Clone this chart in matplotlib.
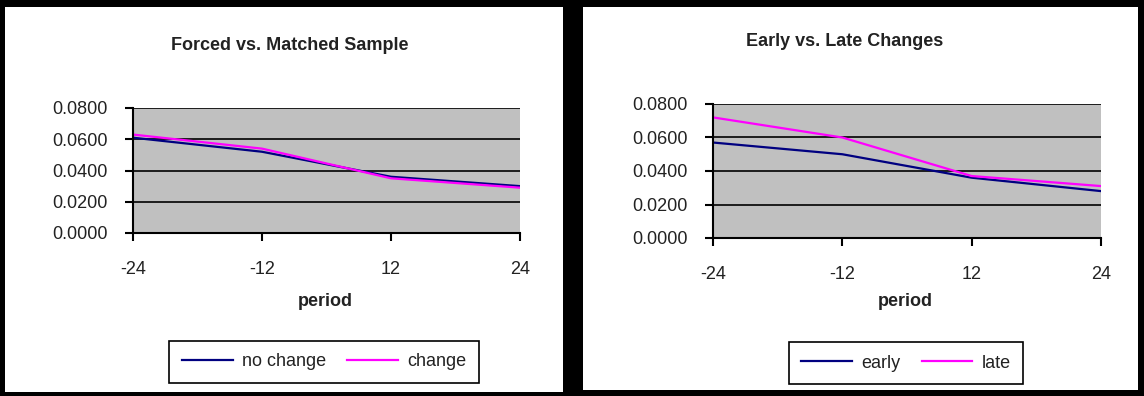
import matplotlib.pyplot as plt

plt.rcParams['font.family'] = ['Liberation Sans', 'DejaVu Sans']

periods = ["-24", "-12", "12", "24"]

# left chart: forced vs. matched sample
no_change = [0.061, 0.052, 0.036, 0.030]
change = [0.063, 0.054, 0.035, 0.029]

# right chart: early vs. late changes
early = [0.057, 0.050, 0.036, 0.028]
late = [0.072, 0.060, 0.037, 0.031]

W, H = 1144, 396
fig = plt.figure(figsize=(W / 100, H / 100), dpi=100, facecolor="black")


def fx(px):
    return px / W


def fy(py):
    return 1 - py / H


def panel(x0, x1, y0, y1):
    bg = fig.add_axes([fx(x0), fy(y1), fx(x1 - x0), (y1 - y0) / H])
    bg.set_facecolor("white")
    bg.set_xticks([])
    bg.set_yticks([])
    for s in bg.spines.values():
        s.set_visible(False)
    return bg


def chart(box, s1, s2, names, title, tpos, lpos, legpos):
    x0, x1, y0, y1 = box
    ax = fig.add_axes([fx(x0), fy(y1), fx(x1 - x0), (y1 - y0) / H])
    ax.set_facecolor("#C0C0C0")
    xs = range(len(periods))
    ax.plot(xs, s1, color="#000080", lw=1.6, label=names[0])
    ax.plot(xs, s2, color="#FF00FF", lw=1.6, label=names[1])
    ax.set_xlim(0, len(periods) - 1)
    ax.set_ylim(0, 0.08)
    ax.set_yticks([0, 0.02, 0.04, 0.06, 0.08])
    ax.set_yticklabels(["%.4f" % v for v in [0, 0.02, 0.04, 0.06, 0.08]])
    ax.set_xticks(list(xs))
    ax.set_xticklabels(periods)
    ax.grid(axis="y", color="black", lw=1.2)
    ax.set_axisbelow(True)
    ax.spines["top"].set_visible(False)
    ax.spines["right"].set_visible(False)
    ax.spines["left"].set_linewidth(1.5)
    ax.spines["bottom"].set_linewidth(1.5)
    ax.tick_params(direction="out", length=6, width=1.5, labelsize=13,
                   labelcolor="#222222")
    ax.tick_params(axis="y", pad=12)
    ax.tick_params(axis="x", pad=14)
    fig.text(fx(tpos[0]), fy(tpos[1]), title, ha="center", va="center",
             fontsize=13, fontweight="bold", color="#222222")
    fig.text(fx(lpos[0]), fy(lpos[1]), "period", ha="center", va="center",
             fontsize=13, fontweight="bold", color="#222222")
    leg = ax.legend(loc="center", bbox_to_anchor=(fx(legpos[0]), fy(legpos[1])),
                    bbox_transform=fig.transFigure, ncol=2, fontsize=13,
                    frameon=True, fancybox=False, handlelength=2.8,
                    columnspacing=1.2, handletextpad=0.5, borderpad=0.7,
                    labelcolor="#222222")
    leg.get_frame().set_edgecolor("black")
    leg.get_frame().set_linewidth(1.2)
    leg.get_frame().set_alpha(1)
    return ax


panel(5, 563, 7, 392)
panel(583, 1138, 7, 390)

chart((133, 520, 108, 233), no_change, change, ("no change", "change"),
      "Forced vs. Matched Sample", (290, 46), (325, 302), (324, 362))
chart((713, 1101, 104, 238), early, late, ("early", "late"),
      "Early vs. Late Changes", (845, 42), (905, 302), (906, 363))

plt.savefig("out.png", dpi=100, facecolor=fig.get_facecolor())
